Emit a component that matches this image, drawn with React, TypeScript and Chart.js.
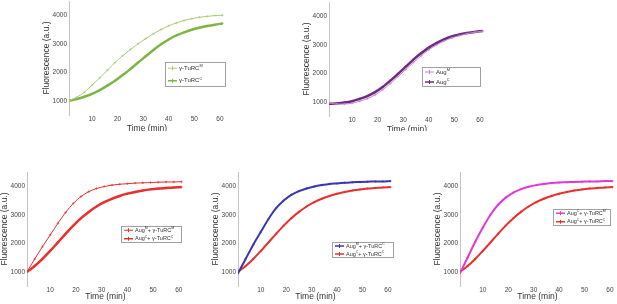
import React, { useEffect, useRef } from "react";
import { Chart, registerables } from "chart.js";

Chart.register(...registerables);

// ---------- data ----------
const time = [1, 4, 7, 10, 13, 16, 19, 22, 25, 28, 31, 34, 37, 40, 43, 46, 49, 52, 55, 58, 61];

const tursM = [1000, 1120, 1300, 1550, 1800, 2070, 2340, 2580, 2800, 3000, 3180, 3350, 3500, 3630, 3730, 3820, 3880, 3930, 3960, 3990, 4000];
const tursC = [1000, 1060, 1140, 1240, 1370, 1530, 1700, 1900, 2110, 2340, 2560, 2780, 2980, 3150, 3290, 3400, 3490, 3560, 3620, 3670, 3710];

const augM = [960, 920, 920, 950, 1020, 1110, 1240, 1420, 1640, 1880, 2130, 2380, 2610, 2820, 2990, 3130, 3240, 3320, 3390, 3440, 3480];
const augC = [930, 940, 970, 1020, 1100, 1200, 1340, 1520, 1740, 1980, 2230, 2480, 2700, 2900, 3060, 3190, 3290, 3360, 3410, 3450, 3480];

const augMturM = [1000, 1450, 1880, 2290, 2700, 3080, 3400, 3640, 3810, 3920, 3990, 4040, 4070, 4090, 4110, 4120, 4130, 4140, 4150, 4150, 4160];
const augCturC = [1000, 1200, 1450, 1730, 2030, 2330, 2620, 2880, 3100, 3290, 3440, 3560, 3660, 3740, 3800, 3850, 3890, 3920, 3940, 3960, 3970];
const augMturC = [950, 1450, 1950, 2400, 2850, 3230, 3500, 3700, 3830, 3920, 3990, 4040, 4080, 4100, 4120, 4140, 4150, 4160, 4170, 4170, 4180];
const augCturM = [950, 1500, 2050, 2550, 3000, 3350, 3600, 3780, 3900, 3980, 4040, 4080, 4110, 4130, 4140, 4150, 4160, 4170, 4170, 4180, 4180];

const xTicks = [10, 20, 30, 40, 50, 60];
const yTicks = [1000, 2000, 3000, 4000];
const xRange = [1, 62];
const yRange = [500, 4500];

const xTitle = "Time (min)";
const yTitle = "Fluorescence (a.u.)";

// ---------- styles / layout ----------
const FAMILY = '"Liberation Sans", Arial, sans-serif';
const RED = "#e8302c";

type Series = { label: string; values: number[]; color: string; width: number };
type Panel = {
  L: number; R: number; T: number; B: number; Hx: number;
  legend: { dx: number; dy: number; w: number; h: number; font: number };
  series: Series[];
};

const panelsTop: Panel[] = [
  {
    L: 69, R: 225, T: 1, B: 115, Hx: 19,
    legend: { dx: 96, dy: 61, w: 61, h: 25, font: 6 },
    series: [
      { label: "γ-TuRC^M", values: tursM, color: "#a9cb78", width: 1 },
      { label: "γ-TuRC^C", values: tursC, color: "#7db644", width: 2.5 },
    ],
  },
  {
    L: 329, R: 485, T: 2, B: 116, Hx: 19,
    legend: { dx: 93, dy: 65, w: 59, h: 20, font: 6 },
    series: [
      { label: "Aug^M", values: augM, color: "#c486cc", width: 1 },
      { label: "Aug^C", values: augC, color: "#6e2a80", width: 2.5 },
    ],
  },
];

const panelsBottom: Panel[] = [
  {
    L: 27, R: 184, T: 172, B: 286, Hx: 16,
    legend: { dx: 94, dy: 54, w: 61, h: 17, font: 5.5 },
    series: [
      { label: "Aug^M+ γ-TuRC^M", values: augMturM, color: RED, width: 1 },
      { label: "Aug^C+ γ-TuRC^C", values: augCturC, color: RED, width: 2.5 },
    ],
  },
  {
    L: 238, R: 393, T: 172, B: 286, Hx: 16,
    legend: { dx: 94, dy: 70, w: 62, h: 16, font: 5.5 },
    series: [
      { label: "Aug^M+ γ-TuRC^C", values: augMturC, color: "#3b36b4", width: 2 },
      { label: "Aug^C+ γ-TuRC^C", values: augCturC, color: RED, width: 2 },
    ],
  },
  {
    L: 460, R: 615, T: 172, B: 286, Hx: 16,
    legend: { dx: 93, dy: 37, w: 58, h: 17, font: 5.5 },
    series: [
      { label: "Aug^C+ γ-TuRC^M", values: augCturM, color: "#e03ad6", width: 2 },
      { label: "Aug^C+ γ-TuRC^C", values: augCturC, color: RED, width: 2 },
    ],
  },
];

const Y_AXIS_W = 27;
const PAD_TOP = 6;
const PAD_RIGHT = 6;

// ---------- legend plugin ----------
function drawRich(ctx: CanvasRenderingContext2D, text: string, x: number, y: number, size: number) {
  const parts = text.split(/(\^\w)/);
  let cx = x;
  ctx.textBaseline = "middle";
  ctx.textAlign = "left";
  ctx.fillStyle = "#333";
  for (const p of parts) {
    if (!p) continue;
    if (p.startsWith("^")) {
      const s = size * 0.65;
      ctx.font = `${s}px ${FAMILY}`;
      ctx.fillText(p.slice(1), cx, y - size * 0.35);
      cx += ctx.measureText(p.slice(1)).width;
    } else {
      ctx.font = `${size}px ${FAMILY}`;
      ctx.fillText(p, cx, y);
      cx += ctx.measureText(p).width;
    }
  }
}

const boxLegend = {
  id: "boxLegend",
  afterDraw(chart: any, _args: any, opts: any) {
    const { ctx, chartArea } = chart;
    const { dx, dy, w, h, font } = opts;
    const x0 = Math.round(chartArea.left + dx);
    const y0 = Math.round(chartArea.top + dy);
    ctx.save();
    ctx.fillStyle = "#fff";
    ctx.fillRect(x0, y0, w, h);
    ctx.strokeStyle = "#a0a0a0";
    ctx.lineWidth = 1;
    ctx.strokeRect(x0 + 0.5, y0 + 0.5, w - 1, h - 1);
    chart.data.datasets.forEach((ds: any, i: number) => {
      const cy = y0 + (h * (2 * i + 1)) / 4;
      ctx.strokeStyle = ds.borderColor;
      ctx.lineWidth = Math.min(ds.borderWidth, 1.5);
      ctx.beginPath();
      ctx.moveTo(x0 + 3, cy);
      ctx.lineTo(x0 + 12, cy);
      ctx.stroke();
      ctx.lineWidth = 1;
      ctx.beginPath();
      ctx.moveTo(x0 + 7.5, cy - 2);
      ctx.lineTo(x0 + 7.5, cy + 2);
      ctx.stroke();
      drawRich(ctx, ds.label, x0 + 14, cy, font);
    });
    ctx.restore();
  },
};

// ---------- panel component ----------
function PanelChart({ p }: { p: Panel }) {
  const ref = useRef<HTMLCanvasElement | null>(null);
  const left = p.L - Y_AXIS_W;
  const top = p.T - PAD_TOP;
  const width = p.R - p.L + Y_AXIS_W + PAD_RIGHT;
  const height = PAD_TOP + (p.B - p.T) + p.Hx;

  useEffect(() => {
    if (!ref.current) return;
    const tickFont = { size: 6.5, family: FAMILY };
    const titleFont = { size: 8.5, family: FAMILY };
    const chart = new Chart(ref.current, {
      type: "line",
      data: {
        datasets: p.series.map((s) => ({
          label: s.label,
          data: time.map((t, i) => ({ x: t, y: s.values[i] })),
          borderColor: s.color,
          backgroundColor: s.color,
          borderWidth: s.width,
          pointStyle: "cross",
          pointRadius: 1.2,
          pointBorderWidth: 0.7,
          pointBorderColor: s.color,
          cubicInterpolationMode: "monotone",
          fill: false,
        })),
      },
      options: {
        animation: false,
        responsive: false,
        maintainAspectRatio: false,
        devicePixelRatio: 1,
        layout: { padding: { top: PAD_TOP, right: PAD_RIGHT, left: 0, bottom: 0 } },
        plugins: {
          legend: { display: false },
          tooltip: { enabled: false },
          boxLegend: p.legend,
        } as any,
        scales: {
          x: {
            type: "linear",
            min: xRange[0],
            max: xRange[1],
            grid: { display: false, drawTicks: false },
            border: { display: false },
            afterBuildTicks: (s: any) => {
              s.ticks = xTicks.map((v) => ({ value: v }));
            },
            afterFit: (s: any) => {
              s.height = p.Hx;
            },
            ticks: {
              font: tickFont, color: "#444", padding: 0, maxRotation: 0, autoSkip: false,
              callback: (v: any) => String(v),
            },
            title: { display: true, text: xTitle, font: titleFont, color: "#333", padding: 0 },
          },
          y: {
            type: "linear",
            min: yRange[0],
            max: yRange[1],
            grid: { display: false, drawTicks: false },
            border: { display: true, color: "#c4c4c4", width: 1 },
            afterBuildTicks: (s: any) => {
              s.ticks = yTicks.map((v) => ({ value: v }));
            },
            afterFit: (s: any) => {
              s.width = Y_AXIS_W;
            },
            ticks: { font: tickFont, color: "#444", padding: 2, callback: (v: any) => String(v) },
            title: { display: true, text: yTitle, font: titleFont, color: "#333", padding: 0 },
          },
        },
      } as any,
      plugins: [boxLegend],
    });
    return () => chart.destroy();
  }, []);

  return (
    <canvas
      ref={ref}
      width={width}
      height={height}
      style={{ position: "absolute", left, top, width, height }}
    />
  );
}

export default function App() {
  return (
    <div
      style={{
        position: "fixed",
        left: 0,
        top: 0,
        width: 617,
        height: 304,
        overflow: "hidden",
        background: "#fff",
      }}
    >
      <div style={{ position: "absolute", left: 0, top: 0, width: 617, height: 131, overflow: "hidden" }}>
        {panelsTop.map((p, i) => (
          <PanelChart key={"t" + i} p={p} />
        ))}
      </div>
      {panelsBottom.map((p, i) => (
        <PanelChart key={"b" + i} p={p} />
      ))}
    </div>
  );
}
